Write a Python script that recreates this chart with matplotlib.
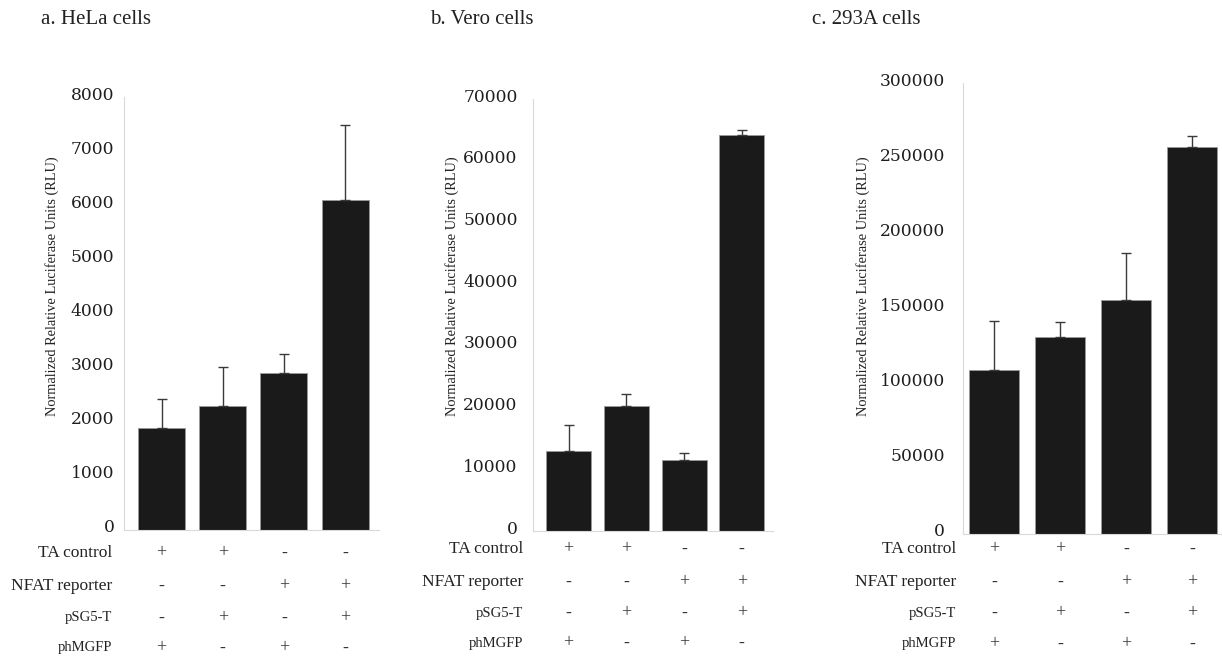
import matplotlib
matplotlib.use('Agg')
import matplotlib.pyplot as plt
from matplotlib.transforms import blended_transform_factory, ScaledTranslation
import numpy as np

plt.rcParams['font.family'] = ['Liberation Serif', 'DejaVu Serif']

W, H = 1222, 660

# 数据
conditions = ['TA control', 'NFAT reporter', 'pSG5-T', 'phMGFP']
signs = [
    ['+', '+', '-', '-'],
    ['-', '-', '+', '+'],
    ['-', '+', '-', '+'],
    ['+', '-', '+', '-'],
]

hela_means = [1880, 2286, 2907, 6094]
hela_err = [535, 733, 340, 1386]

vero_means = [12960, 20300, 11450, 64100]
vero_err = [4240, 1900, 1250, 800]

a293_means = [109100, 131100, 155700, 257700]
a293_err = [32800, 9700, 31100, 7300]

titles = ['a. HeLa cells', 'b. Vero cells', 'c. 293A cells']
ylabel = 'Normalized Relative Luciferase Units (RLU)'

# 版面 (像素): 轴框 left, top, right, bottom
panels = [
    dict(means=hela_means, err=hela_err, ymax=8000, step=1000,
         box=(124, 97, 379, 530), xlim=(-0.613, 3.554), width=0.77,
         title_x=41, ylab_x=52, lab_right=112, pad=7),
    dict(means=vero_means, err=vero_err, ymax=70000, step=10000,
         box=(533, 99, 773, 531), xlim=(-0.615, 3.54), width=0.78,
         title_x=430, ylab_x=452, lab_right=523, pad=11),
    dict(means=a293_means, err=a293_err, ymax=300000, step=50000,
         box=(963, 83, 1221, 534), xlim=(-0.468, 3.44), width=0.76,
         title_x=812, ylab_x=863, lab_right=956, pad=13),
]
row_y = [[553, 586, 618, 648], [549, 582, 613, 643], [549, 582, 613, 644]]
row_sizes = [12.5, 12.5, 10.5, 10.5]

fig = plt.figure(figsize=(W / 100, H / 100), dpi=100)
fig.patch.set_facecolor('white')

for i, p in enumerate(panels):
    l, t, r, b = p['box']
    ax = fig.add_axes([l / W, 1 - b / H, (r - l) / W, (b - t) / H])
    x = np.arange(len(p['means']))
    ax.bar(x, p['means'], width=p['width'], color='#1a1a1a',
           edgecolor='#9a9a9a', linewidth=0.6, zorder=2)
    ax.errorbar(x, p['means'], yerr=[np.zeros(len(x)), p['err']], fmt='none',
                ecolor='#3a3a3a', elinewidth=1.0, capsize=3.5, capthick=1.0, zorder=3)
    ax.set_xlim(*p['xlim'])
    ax.set_ylim(0, p['ymax'])
    ax.set_yticks(np.arange(0, p['ymax'] + 1, p['step']))
    ax.set_xticks([])
    for s in ['top', 'right']:
        ax.spines[s].set_visible(False)
    for s in ['left', 'bottom']:
        ax.spines[s].set_color('#d9d9d9')
        ax.spines[s].set_linewidth(0.8)
    ax.tick_params(axis='y', length=0, pad=p['pad'], labelsize=12.3, labelcolor='#1e1e1e')
    for lab in ax.get_yticklabels():
        lab.set_fontfamily('DejaVu Serif')
        lab.set_transform(lab.get_transform() + ScaledTranslation(0, 0.04, fig.dpi_scale_trans))

    fig.text(p['title_x'] / W, 1 - 20 / H, titles[i], fontsize=15, color='#222222',
             ha='left', va='center')
    fig.text(p['ylab_x'] / W, 1 - 286 / H, ylabel, rotation=90, fontsize=10.4,
             color='#222222', ha='center', va='center')

    trans = blended_transform_factory(ax.transData, fig.transFigure)
    for j, cond in enumerate(conditions):
        yy = 1 - row_y[i][j] / H
        fig.text(p['lab_right'] / W, yy, cond, fontsize=row_sizes[j], color='#222222',
                 ha='right', va='center')
        for k, sgn in enumerate(signs[j]):
            ax.text(x[k], yy, sgn, transform=trans, fontsize=13, color='#333333',
                    ha='center', va='center', clip_on=False)

fig.savefig('out.png', dpi=100)
